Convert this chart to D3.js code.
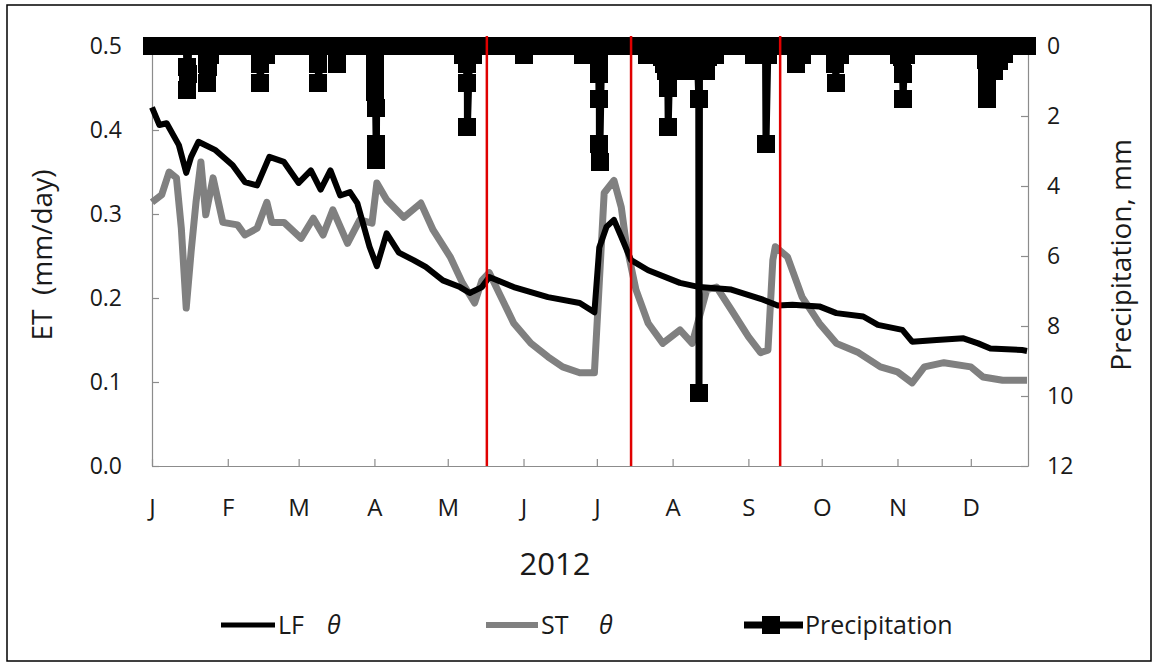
<!DOCTYPE html>
<meta charset="utf-8">
<body style="margin:0; background:#fff;">
<script src="https://d3js.org/d3.v7.min.js"></script>
<svg id="chart" width="1158" height="668"></svg>
<script>
// ---- values (day 0 = 1 Jan 2012) ----
var yearStart = Date.UTC(2012, 0, 1);
var lastDay = 358.4;

var lfDays = [0,3,6,11,14,16,19,26,33,38,43,48,54,60,65,69,73,77,81,84,89,92,96,101,107,112,119,126,130,135,138,148,162,175,181,183,186,189,192,196,203,216,224,237,250,256,262,273,280,291,297,307,311,321,332,338,343,356,358];
var lfET   = [0.427,0.406,0.408,0.382,0.349,0.368,0.386,0.376,0.358,0.338,0.334,0.368,0.362,0.337,0.352,0.329,0.352,0.322,0.326,0.313,0.261,0.238,0.277,0.254,0.245,0.237,0.221,0.213,0.206,0.213,0.225,0.213,0.201,0.194,0.183,0.26,0.285,0.293,0.273,0.245,0.233,0.218,0.213,0.21,0.198,0.191,0.192,0.19,0.182,0.178,0.168,0.162,0.148,0.15,0.152,0.146,0.14,0.138,0.137];

var stDays = [0,4,7,10,12,14,16,18,20,22,25,29,35,38,43,47,49,54,61,66,70,74,80,85,90,92,96,103,110,115,122,127,132,135,138,142,148,155,162,168,175,181,183,185,189,192,194,198,203,209,216,221,227,231,237,244,249,252,254,255,260,266,273,280,289,298,305,311,316,324,335,340,348,358];
var stET   = [0.314,0.323,0.35,0.343,0.283,0.188,0.255,0.314,0.362,0.299,0.343,0.29,0.287,0.275,0.283,0.314,0.29,0.29,0.271,0.295,0.275,0.305,0.265,0.293,0.289,0.337,0.317,0.296,0.313,0.281,0.249,0.218,0.194,0.221,0.23,0.206,0.17,0.146,0.13,0.118,0.111,0.111,0.218,0.325,0.34,0.308,0.265,0.21,0.17,0.146,0.162,0.146,0.21,0.213,0.186,0.154,0.135,0.138,0.245,0.261,0.249,0.201,0.17,0.146,0.135,0.118,0.112,0.099,0.118,0.123,0.118,0.106,0.102,0.102];

// rain readings (sub-daily); all other daily readings of the record are 0 mm
var rainDays = [14.3,14.5,14.7, 22.5,22.7,22.9,23.8, 44.1,44.3,46.6, 67.9,68.1,75.5,
  91.2,91.3,91.4,91.5,91.7,91.8, 127.05,127.5,128.7,128.8,129.05,131.5, 152.05, 176.5,
  182.7,182.8,182.9,183.05,183.15, 202.5, 208.5,209.5,210.3,211.05,211.2,
  212.5,213.5,214.5,215.5,216.5,217.5,218.5,219.5,220.5,221.5,222.5, 223.7,223.8,
  224.5,225.5,226.5,227.5,229.05,230.5, 246.1,248.5,251.2,252.1, 263.5,266.1,
  279.6,279.8,281.5, 305.5,306.95,307.1,307.3,308.5, 341.4,341.5,341.6,341.8,344.5,346.5,348.5];
var rainMm = [0.6,1.25,0.8, 0.5,1.05,0.6,0.25, 0.5,1.05,0.25, 0.5,1.05,0.5,
  0.5,1.0,1.3,1.77,2.8,3.25, 0.25,0.25,0.5,1.05,2.3,0.25, 0.25, 0.25,
  0.35,0.8,1.5,2.8,3.3, 0.25, 0.3,0.5,0.7,1.2,2.3,
  0.4,0.7,0.5,0.7,0.3,0.7,0.5,0.7,0.4,0.7,0.5, 1.5,9.9,
  0.7,0.5,0.7,0.3,0.25,0.25, 0.25,0.25,2.8,0.25, 0.5,0.25,
  0.5,1.05,0.25, 0.25,0.3,0.8,1.5,0.25, 0.4,0.8,1.2,1.5,0.7,0.43,0.23];

var markerDays = [137, 196, 257];
var monthLabels = ["J","F","M","A","M","J","J","A","S","O","N","D"];
var etTicks = [0, 0.1, 0.2, 0.3, 0.4, 0.5];
var rainTicks = [0, 2, 4, 6, 8, 10, 12];

function dayDate(d) { return new Date(yearStart + d * 864e5); }

var svg = d3.select("#chart");
var font = "'Open Sans', 'Noto Sans', sans-serif";
var ink = "#1a1a1a";

// outer frame
svg.append("rect").attr("x", 7).attr("y", 5).attr("width", 1144).attr("height", 656)
  .attr("fill", "none").attr("stroke", "#000").attr("stroke-width", 1.5);

var x = d3.scaleUtc().domain([dayDate(0), dayDate(lastDay)]).range([152, 1028]);
var y = d3.scaleLinear().domain([0, 0.5]).range([466, 46]);
var yR = d3.scaleLinear().domain([0, 12]).range([46, 466]);

// axes
var months = d3.utcMonths(dayDate(0), dayDate(lastDay));
var gx = svg.append("g").attr("transform", "translate(0,466)")
  .call(d3.axisBottom(x).tickValues(months).tickSizeInner(-7).tickSizeOuter(0).tickPadding(33)
    .tickFormat(function(d, i) { return monthLabels[i]; }));
var gy = svg.append("g").attr("transform", "translate(152,0)")
  .call(d3.axisLeft(y).tickValues(etTicks).tickSizeInner(-7).tickSizeOuter(0).tickPadding(30)
    .tickFormat(d3.format(".1f")));
var gr = svg.append("g").attr("transform", "translate(1028,0)")
  .call(d3.axisRight(yR).tickValues(rainTicks).tickSizeInner(-7).tickSizeOuter(0).tickPadding(19)
    .tickFormat(d3.format("d")));

[gx, gy, gr].forEach(function(g) {
  g.select(".domain").attr("stroke", "#8c8c8c").attr("stroke-width", 1.2);
  g.selectAll(".tick line").attr("stroke", "#8c8c8c").attr("stroke-width", 1.2);
  g.selectAll("text").attr("fill", ink).style("font-family", font).style("font-size", "23px");
});
gx.selectAll("text").style("font-size", "24px");

// ET lines
var line = d3.line().x(function(d) { return x(dayDate(d[0])); }).y(function(d) { return y(d[1]); });
svg.append("path").datum(d3.zip(stDays, stET)).attr("d", line)
  .attr("fill", "none").attr("stroke", "#808080").attr("stroke-width", 7).attr("stroke-linejoin", "round");
svg.append("path").datum(d3.zip(lfDays, lfET)).attr("d", line)
  .attr("fill", "none").attr("stroke", "#000").attr("stroke-width", 6).attr("stroke-linejoin", "round");

// precipitation on the reversed secondary axis: zero readings each day plus the rain readings
var rain = d3.range(0, Math.floor(lastDay) + 1).map(function(d) { return [d, 0]; })
  .concat(d3.zip(rainDays, rainMm))
  .sort(function(a, b) { return a[0] - b[0]; });
var rainLine = d3.line().x(function(d) { return x(dayDate(d[0])); }).y(function(d) { return yR(d[1]); });
svg.append("path").datum(rain).attr("d", rainLine)
  .attr("fill", "none").attr("stroke", "#000").attr("stroke-width", 7).attr("stroke-linejoin", "round");
svg.append("g").attr("shape-rendering", "crispEdges").selectAll("rect").data(rain).join("rect")
  .attr("x", function(d) { return x(dayDate(d[0])) - 9; })
  .attr("y", function(d) { return yR(d[1]) - 9; })
  .attr("width", 18).attr("height", 18).attr("fill", "#000");

// red season markers
svg.append("g").selectAll("line").data(markerDays).join("line")
  .attr("x1", function(d) { return x(dayDate(d)); }).attr("x2", function(d) { return x(dayDate(d)); })
  .attr("y1", 36).attr("y2", 466)
  .attr("stroke", "#e00000").attr("stroke-width", 2.5);

// titles
svg.append("text").attr("transform", "translate(52,255) rotate(-90)")
  .attr("text-anchor", "middle").style("white-space", "pre")
  .style("font-family", font).style("font-size", "28px").attr("fill", ink)
  .text("ET  (mm/day)");
svg.append("text").attr("transform", "translate(1131,255) rotate(-90)")
  .attr("text-anchor", "middle")
  .style("font-family", font).style("font-size", "28px").attr("fill", ink)
  .text("Precipitation, mm");
svg.append("text").attr("x", 555).attr("y", 575).attr("text-anchor", "middle")
  .style("font-family", font).style("font-size", "31px").attr("fill", ink)
  .text("2012");

// legend
var leg = svg.append("g").style("font-family", font).style("font-size", "25px").attr("fill", ink);
leg.append("line").attr("x1", 221).attr("x2", 275).attr("y1", 625).attr("y2", 625)
  .attr("stroke", "#000").attr("stroke-width", 5);
leg.append("text").attr("x", 278).attr("y", 634).text("LF");
leg.append("text").attr("x", 327).attr("y", 634).style("font-style", "italic").text("θ");
leg.append("line").attr("x1", 486).attr("x2", 538).attr("y1", 625).attr("y2", 625)
  .attr("stroke", "#808080").attr("stroke-width", 6);
leg.append("text").attr("x", 541).attr("y", 634).text("ST");
leg.append("text").attr("x", 599).attr("y", 634).style("font-style", "italic").text("θ");
leg.append("line").attr("x1", 744).attr("x2", 803).attr("y1", 625).attr("y2", 625)
  .attr("stroke", "#000").attr("stroke-width", 7);
leg.append("rect").attr("x", 762).attr("y", 616).attr("width", 18).attr("height", 18).attr("fill", "#000");
leg.append("text").attr("x", 805).attr("y", 634).text("Precipitation");
</script>
</body>
